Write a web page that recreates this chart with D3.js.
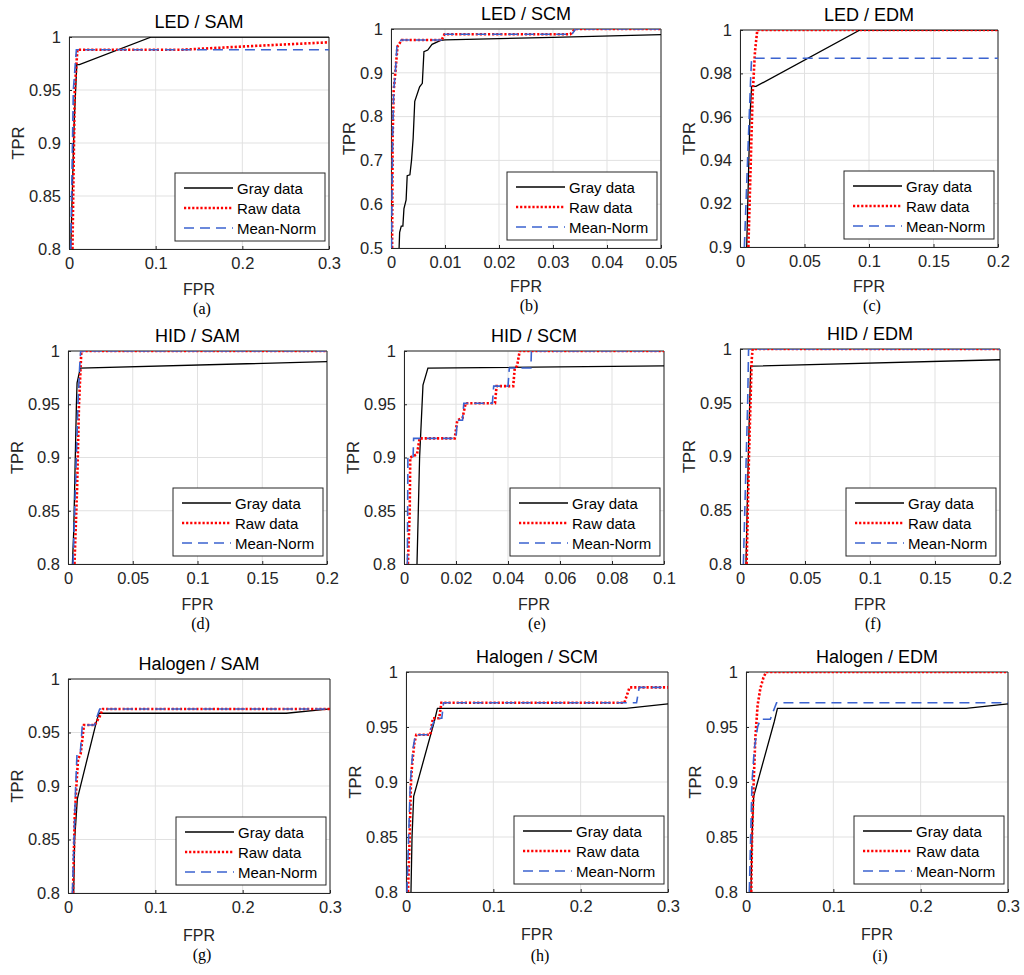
<!DOCTYPE html>
<html><head><meta charset="utf-8">
<script src="https://cdn.jsdelivr.net/npm/d3@7"></script>
<style>body{margin:0;background:#fff}</style>
</head><body><svg id="c" width="1024" height="975"></svg>
<script>
// ---------- DATA ----------
const titles = ["LED / SAM","LED / SCM","LED / EDM","HID / SAM","HID / SCM","HID / EDM","Halogen / SAM","Halogen / SCM","Halogen / EDM"];
const captions = ["(a)","(b)","(c)","(d)","(e)","(f)","(g)","(h)","(i)"];
const seriesNames = ["Gray data","Raw data","Mean-Norm"];
const xAxisLabel = "FPR", yAxisLabel = "TPR";

const xDomains = [[0,0.3],[0,0.05],[0,0.2],[0,0.2],[0,0.1],[0,0.2],[0,0.3],[0,0.3],[0,0.3]];
const yDomains = [[0.8,1],[0.5,1],[0.9,1],[0.8,1],[0.8,1],[0.8,1],[0.8,1],[0.8,1],[0.8,1]];
const xTickSets = [
  [0,0.1,0.2,0.3],[0,0.01,0.02,0.03,0.04,0.05],[0,0.05,0.1,0.15,0.2],
  [0,0.05,0.1,0.15,0.2],[0,0.02,0.04,0.06,0.08,0.1],[0,0.05,0.1,0.15,0.2],
  [0,0.1,0.2,0.3],[0,0.1,0.2,0.3],[0,0.1,0.2,0.3]];
const yTickSets = [
  [0.8,0.85,0.9,0.95,1],[0.5,0.6,0.7,0.8,0.9,1],[0.9,0.92,0.94,0.96,0.98,1],
  [0.8,0.85,0.9,0.95,1],[0.8,0.85,0.9,0.95,1],[0.8,0.85,0.9,0.95,1],
  [0.8,0.85,0.9,0.95,1],[0.8,0.85,0.9,0.95,1],[0.8,0.85,0.9,0.95,1]];

// (a) LED / SAM
const ledSamGray = [[0.002,0.8],[0.006,0.92],[0.009,0.974],[0.012,0.974],[0.095,1.0],[0.3,1.0]];
const ledSamRaw  = [[0.004,0.8],[0.0066,0.95],[0.0097,0.988],[0.13,0.988],[0.2,0.991],[0.3,0.995]];
const ledSamMean = [[0.002,0.8],[0.005,0.95],[0.0085,0.988],[0.3,0.988]];
// (b) LED / SCM
const ledScmGray = [[0.0015,0.5],[0.0016,0.536],[0.0019,0.55],[0.0022,0.55],[0.0024,0.59],[0.0028,0.61],[0.003,0.665],[0.0035,0.667],[0.0038,0.70],[0.0041,0.75],[0.0044,0.835],[0.0053,0.868],[0.0058,0.876],[0.0061,0.948],[0.0068,0.952],[0.0076,0.965],[0.0092,0.974],[0.01,0.975],[0.03,0.981],[0.05,0.987]];
const ledScmRaw  = [[0.0002,0.5],[0.0003,0.75],[0.0005,0.86],[0.0008,0.9],[0.0012,0.96],[0.002,0.975],[0.0094,0.975],[0.0099,0.988],[0.0332,0.988],[0.0341,1.0],[0.05,1.0]];
const ledScmMean = [[0.0001,0.5],[0.0003,0.75],[0.0005,0.86],[0.0008,0.9],[0.0011,0.96],[0.0019,0.975],[0.0093,0.975],[0.0098,0.988],[0.0335,0.988],[0.0342,1.0],[0.05,1.0]];
// (c) LED / EDM
const ledEdmGray = [[0.0052,0.9],[0.0077,0.96],[0.009,0.974],[0.0124,0.974],[0.093,1.0],[0.2,1.0]];
const ledEdmRaw  = [[0.0065,0.9],[0.0098,0.97],[0.0116,0.99],[0.0134,1.0],[0.2,1.0]];
const ledEdmMean = [[0.0034,0.9],[0.0065,0.95],[0.0083,0.978],[0.009,0.987],[0.2,0.987]];
// (d) HID / SAM
const hidSamGray = [[0.0034,0.8],[0.0044,0.83],[0.0065,0.95],[0.007,0.97],[0.0095,0.984],[0.2,0.99]];
const hidSamRaw  = [[0.005,0.8],[0.007,0.87],[0.0085,0.95],[0.0103,1.0],[0.2,1.0]];
const hidSamMean = [[0.0039,0.8],[0.0077,0.95],[0.009,0.985],[0.0098,1.0],[0.2,1.0]];
// (e) HID / SCM
const hidScmGray = [[0.005,0.8],[0.006,0.9],[0.0073,0.968],[0.0092,0.984],[0.1,0.986]];
const hidScmRaw  = [[0.0015,0.8],[0.0022,0.85],[0.0024,0.9],[0.005,0.903],[0.006,0.918],[0.0195,0.918],[0.0205,0.935],[0.0225,0.937],[0.0237,0.951],[0.035,0.951],[0.0356,0.967],[0.042,0.967],[0.0426,0.984],[0.0435,0.986],[0.0445,1.0],[0.1,1.0]];
const hidScmMean = [[0.0013,0.8],[0.0015,0.9],[0.0035,0.9],[0.0037,0.918],[0.02,0.918],[0.0205,0.935],[0.0225,0.935],[0.023,0.951],[0.034,0.951],[0.0345,0.967],[0.040,0.967],[0.0405,0.984],[0.0488,0.984],[0.049,1.0],[0.1,1.0]];
// (f) HID / EDM
const hidEdmGray = [[0.0046,0.8],[0.0064,0.9],[0.0082,0.984],[0.2,0.99]];
const hidEdmRaw  = [[0.0051,0.8],[0.0069,0.9],[0.009,0.99],[0.0097,1.0],[0.2,1.0]];
const hidEdmMean = [[0.0026,0.8],[0.0059,0.95],[0.0066,1.0],[0.2,1.0]];
// (g) Halogen / SAM
const halSamGray = [[0.0065,0.8],[0.0076,0.85],[0.0107,0.888],[0.0325,0.96],[0.0355,0.968],[0.25,0.968],[0.3,0.972]];
const halSamRaw  = [[0.0057,0.8],[0.0076,0.87],[0.0096,0.9],[0.0115,0.925],[0.0145,0.93],[0.0183,0.957],[0.0306,0.957],[0.0363,0.965],[0.04,0.972],[0.3,0.972]];
const halSamMean = [[0.005,0.8],[0.0088,0.9],[0.0103,0.93],[0.014,0.93],[0.0164,0.957],[0.0306,0.957],[0.0325,0.963],[0.0363,0.972],[0.3,0.972]];
// (h) Halogen / SCM
const halScmGray = [[0.0057,0.8],[0.0069,0.85],[0.0088,0.887],[0.0324,0.955],[0.036,0.967],[0.252,0.967],[0.3,0.971]];
const halScmRaw  = [[0.0023,0.8],[0.0042,0.85],[0.0057,0.9],[0.0069,0.915],[0.0095,0.935],[0.0118,0.943],[0.0278,0.943],[0.0308,0.958],[0.038,0.958],[0.0405,0.972],[0.25,0.972],[0.256,0.986],[0.3,0.986]];
const halScmMean = [[0.0011,0.8],[0.003,0.85],[0.005,0.9],[0.008,0.93],[0.0107,0.943],[0.026,0.943],[0.0335,0.958],[0.041,0.958],[0.043,0.972],[0.264,0.972],[0.267,0.986],[0.3,0.986]];
// (i) Halogen / EDM
const halEdmGray = [[0.0057,0.8],[0.0069,0.85],[0.0088,0.887],[0.0324,0.955],[0.036,0.967],[0.252,0.967],[0.3,0.971]];
const halEdmRaw  = [[0.006,0.8],[0.0069,0.85],[0.0088,0.9],[0.0107,0.94],[0.0133,0.97],[0.0164,0.985],[0.02,0.995],[0.023,1.0],[0.3,1.0]];
const halEdmMean = [[0.0038,0.8],[0.0069,0.9],[0.0095,0.93],[0.0133,0.95],[0.0164,0.957],[0.0278,0.957],[0.0316,0.965],[0.035,0.972],[0.3,0.972]];

const panelSeries = [
  [ledSamGray,ledSamRaw,ledSamMean],[ledScmGray,ledScmRaw,ledScmMean],[ledEdmGray,ledEdmRaw,ledEdmMean],
  [hidSamGray,hidSamRaw,hidSamMean],[hidScmGray,hidScmRaw,hidScmMean],[hidEdmGray,hidEdmRaw,hidEdmMean],
  [halSamGray,halSamRaw,halSamMean],[halScmGray,halScmRaw,halScmMean],[halEdmGray,halEdmRaw,halEdmMean]];

// ---------- LAYOUT / STYLE ----------
const boxes = [
  [69,37,329,249,308],[391,29,661,248,305],[740,30,998,247,305],
  [68,351,327,564,623],[404,351,664,564,623],[740,349,1000,564,623],
  [68,679,330,893,954],[406,672,668,892,955],[746,672,1008,892,955]];
const styles = [
  {stroke:"#000000", width:1.3, dash:null},
  {stroke:"#ff0000", width:2.6, dash:"2.2,1.9"},
  {stroke:"#3b63d0", width:1.6, dash:"10,6"}];
const axisColor = "#262626", gridColor = "#e1e1e1";
const font = "'Liberation Sans', Arial, Helvetica, sans-serif";
const fmt = d => String(+d.toFixed(4));

const svg = d3.select("#c");
svg.append("rect").attr("width",1024).attr("height",975).attr("fill","#fff");

boxes.forEach((b, i) => {
  const [x0,y0,x1,y1,capY] = b;
  const w = x1-x0, h = y1-y0;
  const x = d3.scaleLinear().domain(xDomains[i]).range([0,w]);
  const y = d3.scaleLinear().domain(yDomains[i]).range([h,0]);
  const g = svg.append("g").attr("transform",`translate(${x0},${y0})`);

  // grid
  g.append("g").selectAll("line").data(xTickSets[i]).join("line")
    .attr("x1",d=>x(d)).attr("x2",d=>x(d)).attr("y1",0).attr("y2",h)
    .attr("stroke",gridColor).attr("stroke-width",1);
  g.append("g").selectAll("line").data(yTickSets[i]).join("line")
    .attr("y1",d=>y(d)).attr("y2",d=>y(d)).attr("x1",0).attr("x2",w)
    .attr("stroke",gridColor).attr("stroke-width",1);

  // axes
  const xa = g.append("g").attr("transform",`translate(0,${h})`)
    .call(d3.axisBottom(x).tickValues(xTickSets[i]).tickFormat(fmt).tickSizeInner(-3).tickSizeOuter(0).tickPadding(8));
  const ya = g.append("g")
    .call(d3.axisLeft(y).tickValues(yTickSets[i]).tickFormat(fmt).tickSizeInner(-3).tickSizeOuter(0).tickPadding(8));
  [xa,ya].forEach(a=>{
    a.selectAll("path,line").attr("stroke",axisColor);
    a.selectAll("text").attr("fill",axisColor).style("font-family",font).style("font-size","16.5px");
  });
  g.append("line").attr("x1",0).attr("x2",w).attr("y1",0).attr("y2",0).attr("stroke",axisColor);
  g.append("line").attr("x1",w).attr("x2",w).attr("y1",0).attr("y2",h).attr("stroke",axisColor);

  // lines
  const cid = "clip"+i;
  g.append("clipPath").attr("id",cid).append("rect").attr("width",w).attr("height",h);
  const line = d3.line().x(d=>x(d[0])).y(d=>y(d[1]));
  const lg = g.append("g").attr("clip-path",`url(#${cid})`);
  panelSeries[i].forEach((s,k)=>{
    const st = styles[k];
    lg.append("path").datum(s).attr("d",line).attr("fill","none")
      .attr("stroke",st.stroke).attr("stroke-width",st.width)
      .attr("stroke-dasharray",st.dash).attr("stroke-linejoin","miter");
  });

  // title
  g.append("text").attr("x",w/2).attr("y",-9).attr("text-anchor","middle")
    .attr("fill","#000").style("font-family",font).style("font-size","18px").text(titles[i]);
  // axis labels
  let maxW = 0;
  ya.selectAll("text").each(function(){ maxW = Math.max(maxW,this.getComputedTextLength()); });
  g.append("text").attr("transform",`translate(${-(maxW+19)},${h/2}) rotate(-90)`)
    .attr("text-anchor","middle").attr("dominant-baseline","central")
    .attr("fill",axisColor).style("font-family",font).style("font-size","16.5px").text(yAxisLabel);
  const fprY = Math.min(h+42, capY - y0 - 19);
  g.append("text").attr("x",w/2).attr("y",fprY).attr("text-anchor","middle").attr("dominant-baseline","central")
    .attr("fill",axisColor).style("font-family",font).style("font-size","16px").text(xAxisLabel);
  // caption
  svg.append("text").attr("x",x0+w/2+3).attr("y",capY).attr("text-anchor","middle").attr("dominant-baseline","central")
    .attr("fill","#000").style("font-family","'Liberation Serif','Times New Roman',serif").style("font-size","16px").text(captions[i]);

  // legend
  const LW = 150, LH = 68;
  const lgd = g.append("g").attr("transform",`translate(${w-LW-4},${h-LH-8})`);
  lgd.append("rect").attr("width",LW).attr("height",LH).attr("fill","#fff").attr("stroke",axisColor).attr("stroke-width",1);
  seriesNames.forEach((nm,k)=>{
    const st = styles[k];
    const yy = 15 + k*20;
    lgd.append("line").attr("x1",9).attr("x2",58).attr("y1",yy).attr("y2",yy)
      .attr("stroke",st.stroke).attr("stroke-width",st.width).attr("stroke-dasharray",st.dash);
    lgd.append("text").attr("x",62).attr("y",yy).attr("dominant-baseline","central")
      .attr("fill","#000").style("font-family",font).style("font-size","15px").text(nm);
  });
});
</script></body></html>
